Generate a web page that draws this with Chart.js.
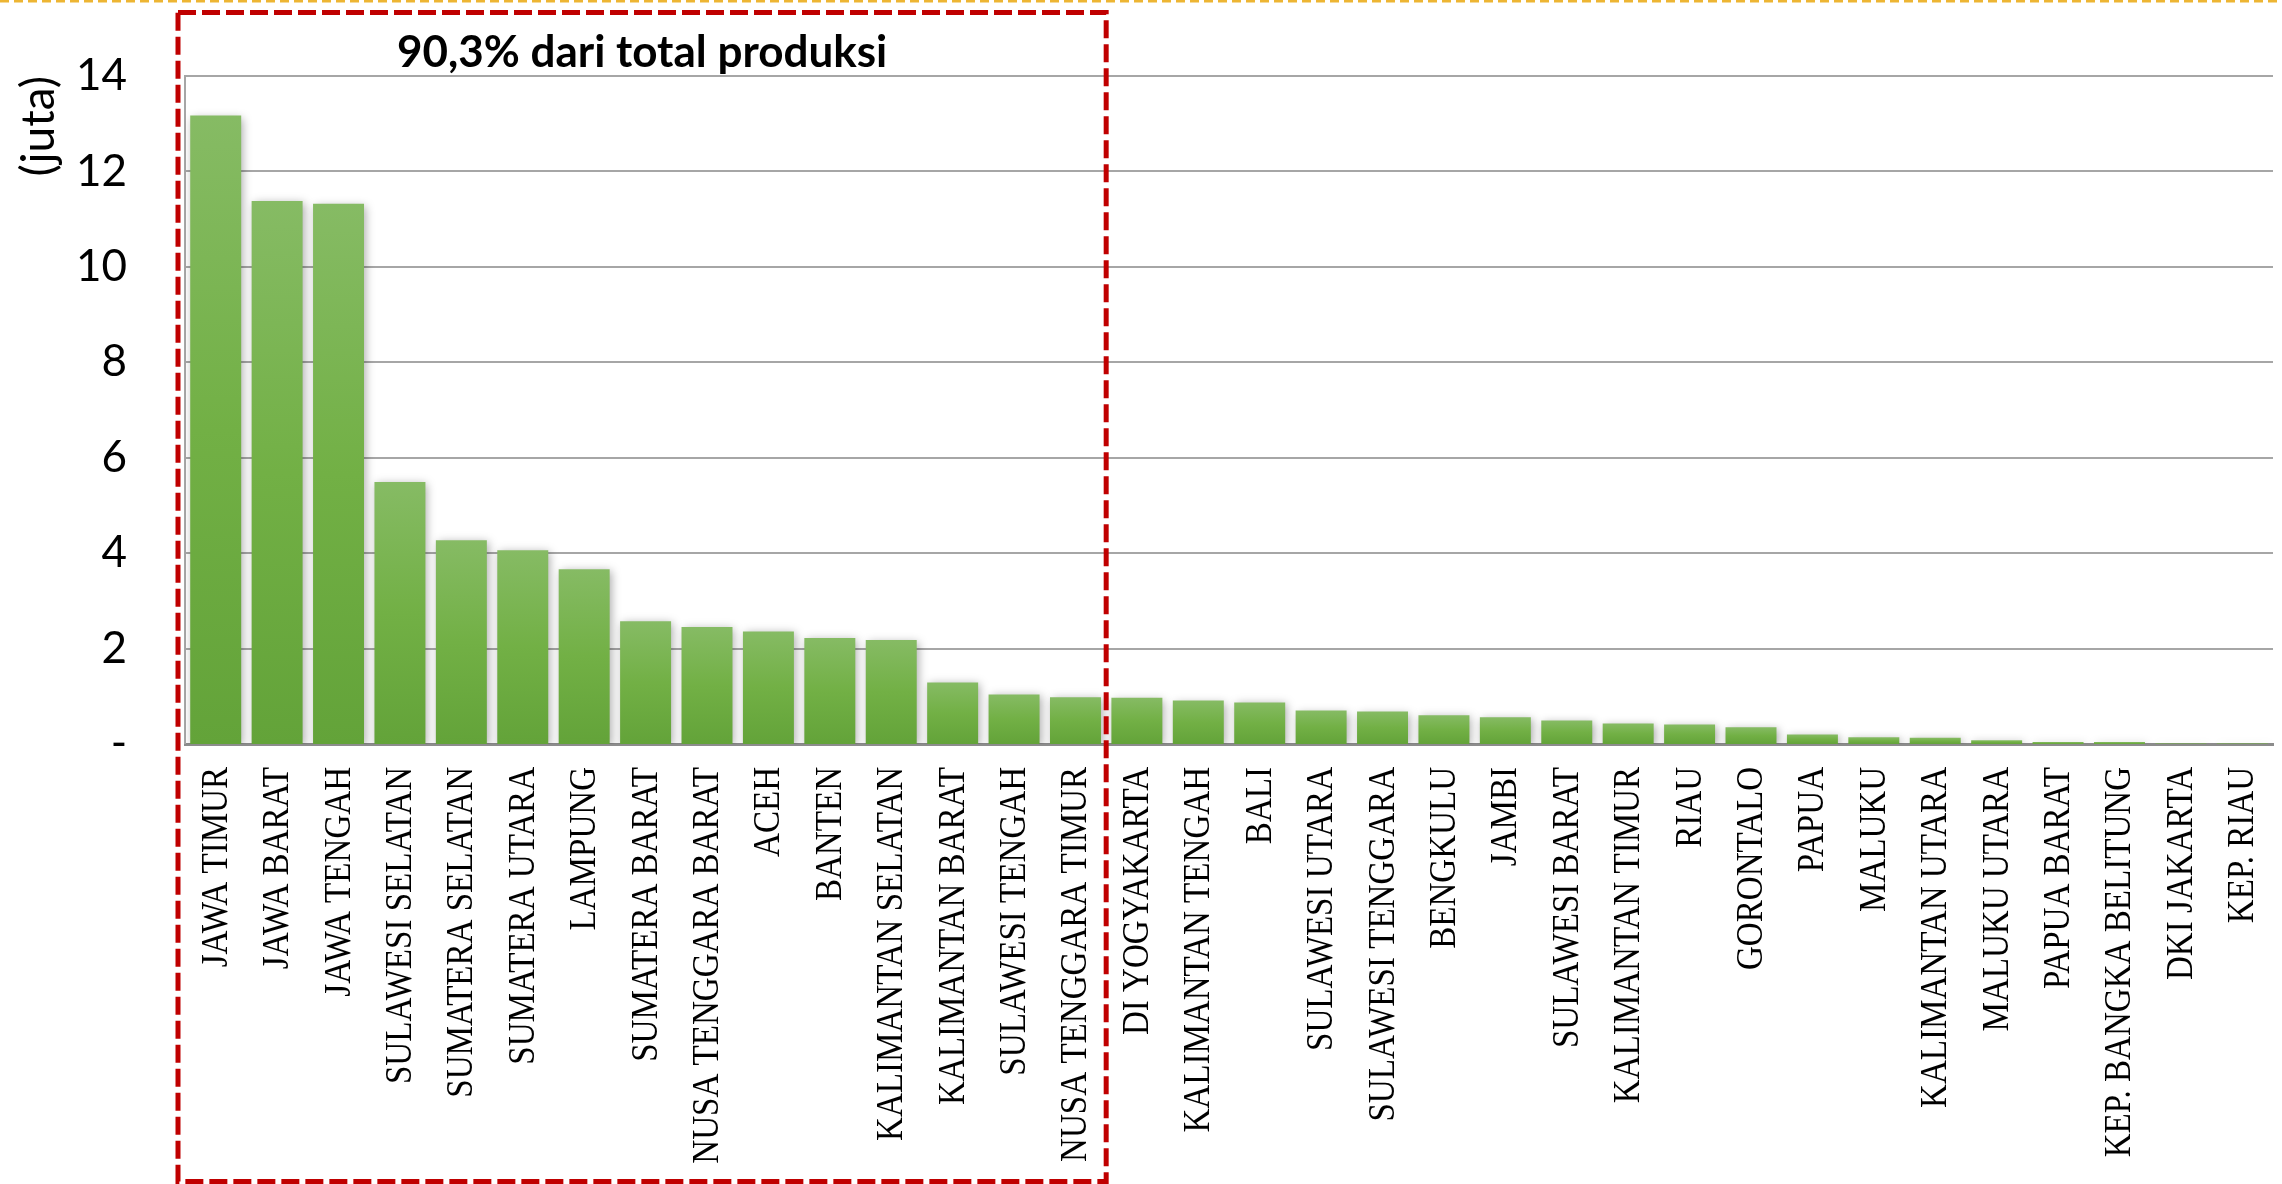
<!DOCTYPE html>
<html>
<head>
<meta charset="utf-8">
<script src="https://cdn.jsdelivr.net/npm/chart.js@4/dist/chart.umd.min.js"></script>
<style>
  html, body { margin: 0; padding: 0; background: #fff; }
</style>
</head>
<body>
<canvas id="prodChart" width="2282" height="1184"></canvas>
<script>
// produksi per provinsi (juta)
const provinces = [
  "JAWA TIMUR", "JAWA BARAT", "JAWA TENGAH", "SULAWESI SELATAN", "SUMATERA SELATAN",
  "SUMATERA UTARA", "LAMPUNG", "SUMATERA BARAT", "NUSA TENGGARA BARAT", "ACEH",
  "BANTEN", "KALIMANTAN SELATAN", "KALIMANTAN BARAT", "SULAWESI TENGAH", "NUSA TENGGARA TIMUR",
  "DI YOGYAKARTA", "KALIMANTAN TENGAH", "BALI", "SULAWESI UTARA", "SULAWESI TENGGARA",
  "BENGKULU", "JAMBI", "SULAWESI BARAT", "KALIMANTAN TIMUR", "RIAU",
  "GORONTALO", "PAPUA", "MALUKU", "KALIMANTAN UTARA", "MALUKU UTARA",
  "PAPUA BARAT", "KEP. BANGKA BELITUNG", "DKI JAKARTA", "KEP. RIAU"
];
const production = [
  13.17, 11.38, 11.32, 5.49, 4.27,
  4.06, 3.66, 2.57, 2.45, 2.36,
  2.22, 2.18, 1.29, 1.04, 0.98,
  0.97, 0.91, 0.87, 0.70, 0.68,
  0.60, 0.56, 0.49, 0.43, 0.41,
  0.35, 0.20, 0.14, 0.13, 0.08,
  0.04, 0.04, 0.01, 0.01
];
const yTickLabels = ["-", "2", "4", "6", "8", "10", "12", "14"];
const yStep = 2;
const topGroupCount = 15;
const topGroupLabel = "90,3% dari total produksi";

// drop shadow behind the bars
const barShadow = {
  id: "barShadow",
  beforeDatasetsDraw(chart) {
    const ctx = chart.ctx;
    ctx.save();
    ctx.shadowColor = "rgba(0,0,0,0.34)";
    ctx.shadowBlur = 9;
    ctx.shadowOffsetX = 2;
    ctx.shadowOffsetY = 2;
  },
  afterDatasetsDraw(chart) {
    chart.ctx.restore();
  }
};

// vertical province names, narrow serif
const provinceLabels = {
  id: "provinceLabels",
  afterDraw(chart) {
    const ctx = chart.ctx;
    const xs = chart.scales.x;
    const y0 = chart.chartArea.bottom + 23;
    ctx.save();
    ctx.fillStyle = "#000";
    ctx.font = '38px "Liberation Serif"';
    ctx.textAlign = "right";
    ctx.textBaseline = "middle";
    provinces.forEach((name, i) => {
      ctx.save();
      ctx.translate(xs.getPixelForValue(i) + 1, y0);
      ctx.rotate(-Math.PI / 2);
      ctx.scale(0.87, 1);
      ctx.fillText(name, 0, 0);
      ctx.restore();
    });
    ctx.restore();
  }
};

// dashed frame around the top provinces + page divider line
const groupFrame = {
  id: "groupFrame",
  afterDraw(chart) {
    const ctx = chart.ctx;
    const xs = chart.scales.x;
    const half = (xs.getPixelForValue(1) - xs.getPixelForValue(0)) / 2;
    const left = xs.getPixelForValue(0) - half - 7;
    const right = xs.getPixelForValue(topGroupCount - 1) + half;
    const top = 12.5;
    const bottom = chart.height - 2.5;

    ctx.save();
    ctx.strokeStyle = "#EDB533";
    ctx.lineWidth = 3;
    ctx.setLineDash([9, 5]);
    ctx.beginPath();
    ctx.moveTo(0, 1);
    ctx.lineTo(chart.width, 1);
    ctx.stroke();

    ctx.strokeStyle = "#C00000";
    ctx.lineWidth = 5;
    ctx.setLineDash([18, 6]);
    ctx.strokeRect(left, top, right - left, bottom - top);

    ctx.setLineDash([]);
    ctx.fillStyle = "#000";
    ctx.font = 'bold 44px "Lato"';
    ctx.textAlign = "center";
    ctx.textBaseline = "alphabetic";
    ctx.fillText(topGroupLabel, (left + right) / 2, 67);
    ctx.restore();
  }
};

function barFill(context) {
  const chart = context.chart;
  const ys = chart.scales.y;
  if (!ys || context.type !== "data") return "#72B044";
  const top = ys.getPixelForValue(context.raw);
  const base = ys.getPixelForValue(0);
  if (!isFinite(top) || !isFinite(base) || base - top < 1) return "#72B044";
  const g = chart.ctx.createLinearGradient(0, top, 0, base);
  g.addColorStop(0, "#86BB64");
  g.addColorStop(0.5, "#72B045");
  g.addColorStop(1, "#63A339");
  return g;
}

new Chart(document.getElementById("prodChart").getContext("2d"), {
  type: "bar",
  data: {
    labels: provinces,
    datasets: [{
      label: "Produksi (juta)",
      data: production,
      backgroundColor: barFill,
      borderWidth: 0,
      barPercentage: 0.83,
      categoryPercentage: 1.0
    }]
  },
  options: {
    responsive: false,
    devicePixelRatio: 1,
    animation: false,
    layout: { padding: { top: 76, right: 9, left: 0, bottom: 0 } },
    plugins: {
      legend: { display: false },
      tooltip: { enabled: false }
    },
    scales: {
      x: {
        ticks: { display: false },
        grid: { display: false },
        border: { color: "#8C8C8C", width: 3 },
        afterFit: s => { s.height = 440; }
      },
      y: {
        min: 0,
        max: 14,
        ticks: {
          stepSize: yStep,
          padding: 58,
          color: "#000",
          font: { family: "Lato", size: 44 },
          callback: v => yTickLabels[Math.round(v / yStep)]
        },
        grid: {
          color: "#A6A6A6",
          lineWidth: c => (c.tick && c.tick.value === 0 ? 0 : 2),
          drawTicks: false
        },
        border: { color: "#A6A6A6", width: 2 },
        title: {
          display: true,
          text: "(juta)",
          align: "end",
          color: "#000",
          font: { family: "Lato", size: 46 },
          padding: { top: 12, bottom: 0 }
        },
        afterFit: s => {
          s.width = 185;
          s.paddingTop = 0;
          s.paddingBottom = 0;
        }
      }
    }
  },
  plugins: [barShadow, provinceLabels, groupFrame]
});
</script>
</body>
</html>
